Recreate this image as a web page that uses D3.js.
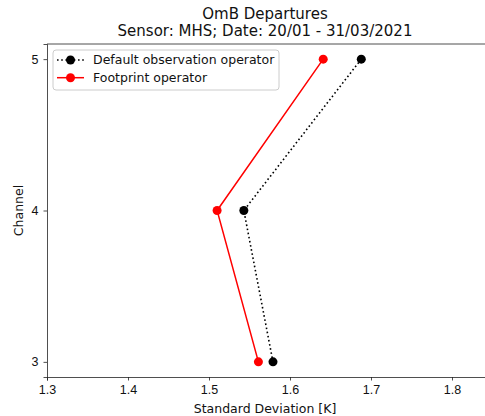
<!DOCTYPE html>
<html>
<head>
<meta charset="utf-8">
<script src="https://cdn.jsdelivr.net/npm/d3@7"></script>
<style>
  body { margin: 0; background: #fff; }
  svg { font-family: "DejaVu Sans", sans-serif; }
</style>
</head>
<body>
<div id="chart"></div>
<script>
const channels = [5, 4, 3];
const defaultStd = [1.688, 1.543, 1.579];
const footprintStd = [1.641, 1.510, 1.561];
const xTicks = [1.3, 1.4, 1.5, 1.6, 1.7, 1.8];
const yTicks = [3, 4, 5];
const seriesNames = ["Default observation operator", "Footprint operator"];

const width = 485,
    height = 416,
    margin = ({ top: 44, bottom: 39, left: 47 });

const svg = d3.select("#chart")
    .append("svg")
    .attr("width", width)
    .attr("height", height);

let x = d3.scaleLinear()
    .domain([1.3, 1.9])
    .range([margin.left, margin.left + 810 * 0.6]);

let y = d3.scaleLinear()
    .domain([2.9, 5.1])
    .range([height - margin.bottom, margin.top]);

const xAxis = svg.append("g")
    .attr("transform", `translate(0,${height - margin.bottom})`)
    .call(d3.axisBottom(x).tickValues(xTicks).tickFormat(d3.format(".1f")).tickSizeOuter(0).tickSize(3.5).tickPadding(5));

const yAxis = svg.append("g")
    .attr("transform", `translate(${margin.left},0)`)
    .call(d3.axisLeft(y).tickValues(yTicks).tickFormat(d3.format("d")).tickSizeOuter(0).tickSize(3.5).tickPadding(5));

[xAxis, yAxis].forEach(a => {
  a.selectAll("text").style("font-size", "12.5px").attr("fill", "#111");
  a.selectAll("line").attr("stroke", "#222").attr("stroke-width", 0.8);
  a.select(".domain").attr("stroke", "#222").attr("stroke-width", 0.8);
});

// top spine
svg.append("line")
    .attr("x1", margin.left).attr("x2", width)
    .attr("y1", margin.top).attr("y2", margin.top)
    .attr("stroke", "#222").attr("stroke-width", 0.8);

const defaultData = channels.map((c, i) => ({ ch: c, v: defaultStd[i] }));
const footData = channels.map((c, i) => ({ ch: c, v: footprintStd[i] }));

const line = d3.line().x(d => x(d.v)).y(d => y(d.ch));

const plot = svg.append("g").attr("class", "plot");

plot.append("path")
    .datum(footData)
    .attr("d", line)
    .attr("fill", "none")
    .attr("stroke", "red")
    .attr("stroke-width", 1.5);

plot.selectAll("circle.foot")
    .data(footData)
    .join("circle")
    .attr("class", "foot")
    .attr("cx", d => x(d.v))
    .attr("cy", d => y(d.ch))
    .attr("r", 4.5)
    .attr("fill", "red");

plot.append("path")
    .datum(defaultData)
    .attr("d", line)
    .attr("fill", "none")
    .attr("stroke", "black")
    .attr("stroke-width", 1.6)
    .attr("stroke-dasharray", "1.6,2.6");

plot.selectAll("circle.def")
    .data(defaultData)
    .join("circle")
    .attr("class", "def")
    .attr("cx", d => x(d.v))
    .attr("cy", d => y(d.ch))
    .attr("r", 4.5)
    .attr("fill", "black");

// titles
svg.append("text")
    .attr("x", 265)
    .attr("y", 19)
    .attr("text-anchor", "middle")
    .style("font-size", "15px")
    .attr("fill", "#111")
    .text("OmB Departures");

svg.append("text")
    .attr("x", 265)
    .attr("y", 36)
    .attr("text-anchor", "middle")
    .style("font-size", "15px")
    .attr("fill", "#111")
    .text("Sensor: MHS; Date: 20/01 - 31/03/2021");

svg.append("text")
    .attr("x", 265)
    .attr("y", 413)
    .attr("text-anchor", "middle")
    .style("font-size", "12.5px")
    .attr("fill", "#111")
    .text("Standard Deviation [K]");

svg.append("text")
    .attr("transform", `translate(23,${y(4)}) rotate(-90)`)
    .attr("text-anchor", "middle")
    .style("font-size", "12.5px")
    .attr("fill", "#111")
    .text("Channel");

// legend
const legend = svg.append("g")
    .attr("class", "legend")
    .attr("transform", "translate(53,50)");

legend.append("rect")
    .attr("width", 226)
    .attr("height", 40)
    .attr("rx", 3)
    .attr("fill", "white")
    .attr("fill-opacity", 0.8)
    .attr("stroke", "#ccc")
    .attr("stroke-width", 1);

const items = legend.selectAll("g.item")
    .data(seriesNames)
    .join("g")
    .attr("class", "item")
    .attr("transform", (d, i) => `translate(0,${10 + i * 17.7})`);

items.append("line")
    .attr("x1", 4).attr("x2", 31)
    .attr("stroke", (d, i) => i === 0 ? "black" : "red")
    .attr("stroke-width", 1.5)
    .attr("stroke-dasharray", (d, i) => i === 0 ? "1.6,2.6" : null);

items.append("circle")
    .attr("cx", 17.5)
    .attr("r", 4.5)
    .attr("fill", (d, i) => i === 0 ? "black" : "red");

items.append("text")
    .attr("x", 40)
    .attr("dy", "0.35em")
    .style("font-size", "12.5px")
    .attr("fill", "#111")
    .text(d => d);
</script>
</body>
</html>
